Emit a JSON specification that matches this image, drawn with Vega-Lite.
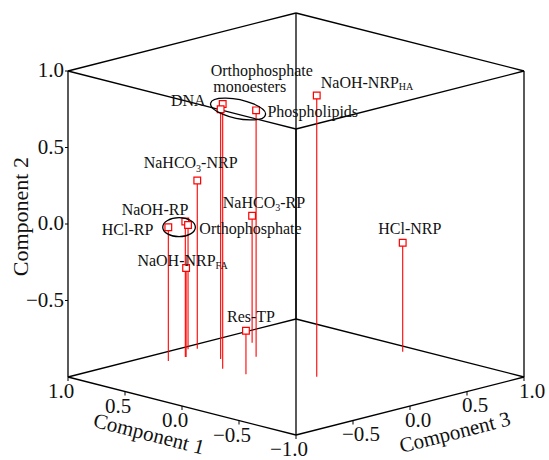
{
  "$schema": "https://vega.github.io/schema/vega-lite/v6.json",
  "width": 549,
  "height": 460,
  "autosize": "none",
  "padding": 0,
  "background": "white",
  "config": {"view": {"stroke": null}},
  "data": {"values": [
    {"kind":"pt","name":"HCl-RP","c1":0.836,"c2":-0.126,"c3":-0.284,"g":"B"},
    {"kind":"pt","name":"NaOH-RP","c1":0.830,"c2":-0.114,"c3":-0.141,"g":"B"},
    {"kind":"pt","name":"Orthophosphate","c1":0.951,"c2":-0.188,"c3":0.004,"g":"B"},
    {"kind":"pt","name":"NaOH-NRP_FA","c1":0.827,"c2":-0.418,"c3":-0.137},
    {"kind":"pt","name":"NaHCO3-NRP","c1":0.921,"c2":0.099,"c3":0.055},
    {"kind":"pt","name":"Orthophosphate monoesters","c1":0.465,"c2":0.730,"c3":-0.178,"g":"A"},
    {"kind":"pt","name":"DNA","c1":0.641,"c2":0.632,"c3":-0.020,"g":"A"},
    {"kind":"pt","name":"Phospholipids","c1":0.525,"c2":0.610,"c3":0.175,"g":"A"},
    {"kind":"pt","name":"NaHCO3-RP","c1":0.784,"c2":-0.170,"c3":0.399},
    {"kind":"pt","name":"Res-TP","c1":0.266,"c2":-0.715,"c3":-0.173},
    {"kind":"pt","name":"NaOH-NRP_HA","c1":-0.086,"c2":0.838,"c3":0.096},
    {"kind":"pt","name":"HCl-NRP","c1":-0.032,"c2":-0.288,"c3":0.904},
    {"kind":"edge","e":1,"c1":1,"c2":1,"c3":-1},{"kind":"edge","e":1,"c1":1,"c2":1,"c3":1},
    {"kind":"edge","e":2,"c1":1,"c2":1,"c3":1},{"kind":"edge","e":2,"c1":-1,"c2":1,"c3":1},
    {"kind":"edge","e":3,"c1":-1,"c2":1,"c3":1},{"kind":"edge","e":3,"c1":-1,"c2":1,"c3":-1},
    {"kind":"edge","e":4,"c1":-1,"c2":1,"c3":-1},{"kind":"edge","e":4,"c1":1,"c2":1,"c3":-1},
    {"kind":"edge","e":5,"c1":1,"c2":-1,"c3":-1},{"kind":"edge","e":5,"c1":1,"c2":-1,"c3":1},
    {"kind":"edge","e":6,"c1":1,"c2":-1,"c3":1},{"kind":"edge","e":6,"c1":-1,"c2":-1,"c3":1},
    {"kind":"edge","e":7,"c1":-1,"c2":-1,"c3":1},{"kind":"edge","e":7,"c1":-1,"c2":-1,"c3":-1},
    {"kind":"edge","e":8,"c1":-1,"c2":-1,"c3":-1},{"kind":"edge","e":8,"c1":1,"c2":-1,"c3":-1},
    {"kind":"edge","e":9,"c1":1,"c2":1,"c3":-1},{"kind":"edge","e":9,"c1":1,"c2":-1,"c3":-1},
    {"kind":"edge","e":10,"c1":1,"c2":1,"c3":1},{"kind":"edge","e":10,"c1":1,"c2":-1,"c3":1},
    {"kind":"edge","e":11,"c1":-1,"c2":1,"c3":1},{"kind":"edge","e":11,"c1":-1,"c2":-1,"c3":1},
    {"kind":"edge","e":12,"c1":-1,"c2":1,"c3":-1},{"kind":"edge","e":12,"c1":-1,"c2":-1,"c3":-1},
    {"kind":"t2","c1":1,"c2":1,"c3":-1},{"kind":"t2","c1":1,"c2":0.5,"c3":-1},
    {"kind":"t2","c1":1,"c2":0,"c3":-1},{"kind":"t2","c1":1,"c2":-0.5,"c3":-1},
    {"kind":"t1","c1":1,"c2":-1,"c3":-1},{"kind":"t1","c1":0.5,"c2":-1,"c3":-1},
    {"kind":"t1","c1":0,"c2":-1,"c3":-1},{"kind":"t1","c1":-0.5,"c2":-1,"c3":-1},
    {"kind":"t1","c1":-1,"c2":-1,"c3":-1},
    {"kind":"t3","c1":-1,"c2":-1,"c3":-0.5},{"kind":"t3","c1":-1,"c2":-1,"c3":0},
    {"kind":"t3","c1":-1,"c2":-1,"c3":0.5},{"kind":"t3","c1":-1,"c2":-1,"c3":1},
    {"kind":"title","name":"Component 1","c1":0,"c2":-1,"c3":-1},
    {"kind":"title","name":"Component 2","c1":1,"c2":0,"c3":-1},
    {"kind":"title","name":"Component 3","c1":-1,"c2":-1,"c3":0}
  ]},
  "transform": [
    {"calculate": "114*(datum.c3-datum.c1)", "as": "X"},
    {"calculate": "29*(datum.c1+datum.c3)+153*datum.c2", "as": "Y"},
    {"calculate": "29*(datum.c1+datum.c3)-153", "as": "Yf"}
  ],
  "encoding": {
    "x": {"field": "X", "type": "quantitative", "scale": {"domain": [-296, 253], "nice": false, "zero": false}, "axis": null},
    "y": {"field": "Y", "type": "quantitative", "scale": {"domain": [-236, 224], "nice": false, "zero": false}, "axis": null}
  },
  "layer": [
    {"transform": [{"filter": "datum.kind=='edge'"}],
     "mark": {"type": "line", "color": "black", "strokeWidth": 1.3},
     "encoding": {"detail": {"field": "e", "type": "nominal"}}},
    {"transform": [{"filter": "datum.kind=='pt'"}],
     "mark": {"type": "rule", "color": "#ff0000", "strokeWidth": 1.1},
     "encoding": {"y2": {"field": "Yf"}}},
    {"transform": [{"filter": "datum.kind=='pt'"}],
     "mark": {"type": "point", "shape": "square", "size": 45, "filled": true, "fill": "white", "stroke": "#ff0000", "strokeWidth": 1.2, "opacity": 1}},
    {"transform": [{"filter": "datum.g=='A'"}, {"aggregate": [{"op": "mean", "field": "X", "as": "X"}, {"op": "mean", "field": "Y", "as": "Y"}], "groupby": ["g"]}],
     "mark": {"type": "point", "shape": "M-0.803,-0.169A1,0.332,12,1,0,1.153,0.247A1,0.332,12,1,0,-0.803,-0.169Z", "size": 3136, "filled": false, "stroke": "black", "strokeWidth": 1.3, "opacity": 1}},
    {"transform": [{"filter": "datum.g=='B'"}, {"aggregate": [{"op": "mean", "field": "X", "as": "X"}, {"op": "mean", "field": "Y", "as": "Y"}], "groupby": ["g"]}],
     "mark": {"type": "point", "shape": "M-1.092,0.16A1,0.583,0,1,0,0.908,0.16A1,0.583,0,1,0,-1.092,0.16Z", "size": 1063, "filled": false, "stroke": "black", "strokeWidth": 1.3, "opacity": 1}},

    {"transform": [{"filter": "datum.name=='Orthophosphate monoesters'"}],
     "mark": {"type": "text", "font": "Liberation Serif", "fontSize": 16, "color": "#111", "align": "left", "baseline": "alphabetic", "dx": -12, "dy": -28.4},
     "encoding": {"text": {"value": "Orthophosphate"}}},
    {"transform": [{"filter": "datum.name=='Orthophosphate monoesters'"}],
     "mark": {"type": "text", "font": "Liberation Serif", "fontSize": 16, "color": "#111", "align": "left", "baseline": "alphabetic", "dx": -9.4, "dy": -12.3},
     "encoding": {"text": {"value": "monoesters"}}},
    {"transform": [{"filter": "datum.name=='DNA'"}],
     "mark": {"type": "text", "font": "Liberation Serif", "fontSize": 16, "color": "#111", "align": "right", "baseline": "alphabetic", "dx": -15, "dy": -3.3},
     "encoding": {"text": {"field": "name", "type": "nominal"}}},
    {"transform": [{"filter": "datum.name=='Phospholipids'"}],
     "mark": {"type": "text", "font": "Liberation Serif", "fontSize": 16, "color": "#111", "align": "left", "baseline": "alphabetic", "dx": 11.3, "dy": 6.3},
     "encoding": {"text": {"field": "name", "type": "nominal"}}},
    {"transform": [{"filter": "datum.name=='NaOH-NRP_HA'"}],
     "mark": {"type": "text", "font": "Liberation Serif", "fontSize": 16, "color": "#111", "align": "left", "baseline": "alphabetic", "dx": 4, "dy": -7.5},
     "encoding": {"text": {"value": "NaOH-NRP"}}},
    {"transform": [{"filter": "datum.name=='NaOH-NRP_HA'"}],
     "mark": {"type": "text", "font": "Liberation Serif", "fontSize": 10, "color": "#111", "align": "left", "baseline": "alphabetic", "dx": 82, "dy": -5},
     "encoding": {"text": {"value": "HA"}}},
    {"transform": [{"filter": "datum.name=='NaHCO3-NRP'"}],
     "mark": {"type": "text", "font": "Liberation Serif", "fontSize": 16, "color": "#111", "align": "left", "baseline": "alphabetic", "dx": -53.6, "dy": -12.2},
     "encoding": {"text": {"value": "NaHCO"}}},
    {"transform": [{"filter": "datum.name=='NaHCO3-NRP'"}],
     "mark": {"type": "text", "font": "Liberation Serif", "fontSize": 10, "color": "#111", "align": "left", "baseline": "alphabetic", "dx": -1.2, "dy": -9},
     "encoding": {"text": {"value": "3"}}},
    {"transform": [{"filter": "datum.name=='NaHCO3-NRP'"}],
     "mark": {"type": "text", "font": "Liberation Serif", "fontSize": 16, "color": "#111", "align": "left", "baseline": "alphabetic", "dx": 3.8, "dy": -12.2},
     "encoding": {"text": {"value": "-NRP"}}},
    {"transform": [{"filter": "datum.name=='NaOH-RP'"}],
     "mark": {"type": "text", "font": "Liberation Serif", "fontSize": 16, "color": "#111", "align": "right", "baseline": "alphabetic", "dx": 3, "dy": -6.5},
     "encoding": {"text": {"field": "name", "type": "nominal"}}},
    {"transform": [{"filter": "datum.name=='HCl-RP'"}],
     "mark": {"type": "text", "font": "Liberation Serif", "fontSize": 16, "color": "#111", "align": "right", "baseline": "alphabetic", "dx": -15, "dy": 7.7},
     "encoding": {"text": {"field": "name", "type": "nominal"}}},
    {"transform": [{"filter": "datum.name=='Orthophosphate'"}],
     "mark": {"type": "text", "font": "Liberation Serif", "fontSize": 16, "color": "#111", "align": "left", "baseline": "alphabetic", "dx": 11.3, "dy": 8.5},
     "encoding": {"text": {"field": "name", "type": "nominal"}}},
    {"transform": [{"filter": "datum.name=='NaOH-NRP_FA'"}],
     "mark": {"type": "text", "font": "Liberation Serif", "fontSize": 16, "color": "#111", "align": "left", "baseline": "alphabetic", "dx": -48.7, "dy": -2},
     "encoding": {"text": {"value": "NaOH-NRP"}}},
    {"transform": [{"filter": "datum.name=='NaOH-NRP_FA'"}],
     "mark": {"type": "text", "font": "Liberation Serif", "fontSize": 10, "color": "#111", "align": "left", "baseline": "alphabetic", "dx": 29.5, "dy": 1},
     "encoding": {"text": {"value": "FA"}}},
    {"transform": [{"filter": "datum.name=='NaHCO3-RP'"}],
     "mark": {"type": "text", "font": "Liberation Serif", "fontSize": 16, "color": "#111", "align": "left", "baseline": "alphabetic", "dx": -29.3, "dy": -8},
     "encoding": {"text": {"value": "NaHCO"}}},
    {"transform": [{"filter": "datum.name=='NaHCO3-RP'"}],
     "mark": {"type": "text", "font": "Liberation Serif", "fontSize": 10, "color": "#111", "align": "left", "baseline": "alphabetic", "dx": 23.1, "dy": -5},
     "encoding": {"text": {"value": "3"}}},
    {"transform": [{"filter": "datum.name=='NaHCO3-RP'"}],
     "mark": {"type": "text", "font": "Liberation Serif", "fontSize": 16, "color": "#111", "align": "left", "baseline": "alphabetic", "dx": 28.1, "dy": -8},
     "encoding": {"text": {"value": "-RP"}}},
    {"transform": [{"filter": "datum.name=='Res-TP'"}],
     "mark": {"type": "text", "font": "Liberation Serif", "fontSize": 16, "color": "#111", "align": "center", "baseline": "alphabetic", "dx": 5, "dy": -8.4},
     "encoding": {"text": {"field": "name", "type": "nominal"}}},
    {"transform": [{"filter": "datum.name=='HCl-NRP'"}],
     "mark": {"type": "text", "font": "Liberation Serif", "fontSize": 16, "color": "#111", "align": "left", "baseline": "alphabetic", "dx": -24.4, "dy": -8.7},
     "encoding": {"text": {"field": "name", "type": "nominal"}}},

    {"transform": [{"filter": "datum.kind=='t1' || datum.kind=='t3'"}],
     "mark": {"type": "point", "shape": "M0,0L0,1", "size": 64, "filled": false, "stroke": "black", "strokeWidth": 1, "opacity": 1}},
    {"transform": [{"filter": "datum.kind=='t2'"}],
     "mark": {"type": "point", "shape": "M0,0L-1,0", "size": 36, "filled": false, "stroke": "black", "strokeWidth": 1, "opacity": 1}},
    {"transform": [{"filter": "datum.kind=='t2'"}],
     "mark": {"type": "text", "font": "Liberation Serif", "fontSize": 21, "color": "#111", "align": "right", "baseline": "middle", "dx": -4},
     "encoding": {"text": {"field": "c2", "type": "quantitative", "format": ".1f"}}},
    {"transform": [{"filter": "datum.kind=='t1'"}],
     "mark": {"type": "text", "font": "Liberation Serif", "fontSize": 21, "color": "#111", "align": "center", "baseline": "middle", "dx": -7, "dy": 15},
     "encoding": {"text": {"field": "c1", "type": "quantitative", "format": ".1f"}}},
    {"transform": [{"filter": "datum.kind=='t3'"}],
     "mark": {"type": "text", "font": "Liberation Serif", "fontSize": 21, "color": "#111", "align": "center", "baseline": "middle", "dx": 8, "dy": 14.5},
     "encoding": {"text": {"field": "c3", "type": "quantitative", "format": ".1f"}}},
    {"transform": [{"filter": "datum.name=='Component 1'"}],
     "mark": {"type": "text", "font": "Liberation Serif", "fontSize": 21, "color": "#111", "align": "center", "baseline": "middle", "angle": 14.3, "dx": -25, "dy": 36},
     "encoding": {"text": {"field": "name", "type": "nominal"}}},
    {"transform": [{"filter": "datum.name=='Component 2'"}],
     "mark": {"type": "text", "font": "Liberation Serif", "fontSize": 22, "color": "#111", "align": "center", "baseline": "middle", "angle": -90, "dx": 7.3, "dy": -47.5},
     "encoding": {"text": {"field": "name", "type": "nominal"}}},
    {"transform": [{"filter": "datum.name=='Component 3'"}],
     "mark": {"type": "text", "font": "Liberation Serif", "fontSize": 21, "color": "#111", "align": "center", "baseline": "middle", "angle": -14.3, "dx": 37, "dy": 37.5},
     "encoding": {"text": {"field": "name", "type": "nominal"}}}
  ]
}
